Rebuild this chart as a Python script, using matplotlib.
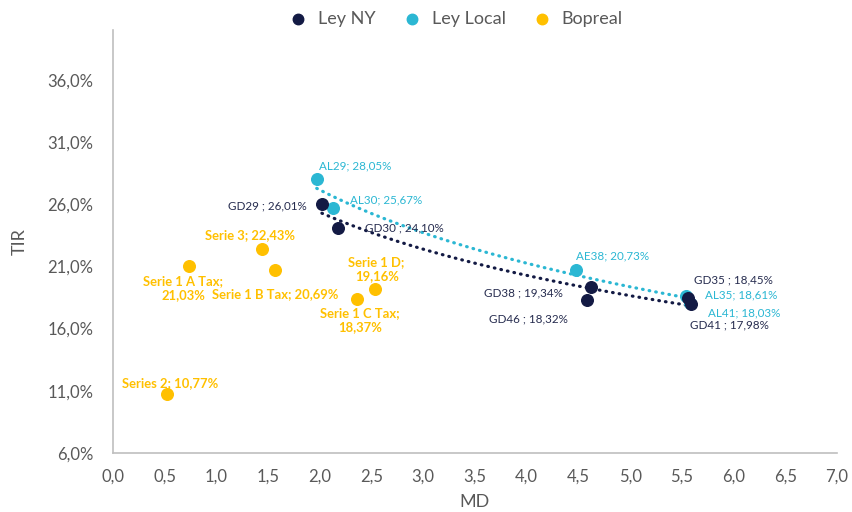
import numpy as np
import matplotlib
matplotlib.use("Agg")
import matplotlib.pyplot as plt
from matplotlib.ticker import FuncFormatter

plt.rcParams['font.family'] = ['Lato', 'DejaVu Sans']

# Ley NY
ny_names = ['GD29', 'GD30', 'GD38', 'GD46', 'GD35', 'GD41']
ny_md = [2.02, 2.18, 4.62, 4.58, 5.56, 5.59]
ny_tir = [26.01, 24.10, 19.34, 18.32, 18.45, 17.98]

# Ley Local
loc_names = ['AL29', 'AL30', 'AE38', 'AL35', 'AL41']
loc_md = [1.97, 2.13, 4.48, 5.54, 5.58]
loc_tir = [28.05, 25.67, 20.73, 18.61, 18.03]

# Bopreal
bop_names = ['Serie 1 A Tax', 'Serie 3', 'Serie 1 B Tax', 'Serie 1 D', 'Serie 1 C Tax', 'Series 2']
bop_md = [0.735, 1.44, 1.57, 2.53, 2.36, 0.52]
bop_tir = [21.03, 22.43, 20.69, 19.16, 18.37, 10.77]

navy = '#131a44'
cyan = '#2bb7d3'
gold = '#ffc000'
navy_txt = '#262c4f'
grey = '#595959'

fig = plt.figure(figsize=(8.52, 5.12), dpi=100)
ax = fig.add_axes([0.1326, 0.1152, 0.8498, 0.8262])


def fmt(v):
    return f'{v:.2f}'.replace('.', ',') + '%'


def trend(x, y, color):
    # logarithmic trendline like Excel
    x = np.array(x)
    a, b = np.polyfit(np.log(x), np.array(y), 1)
    xs = np.linspace(x.min(), x.max(), 200)
    ax.plot(xs, a * np.log(xs) + b, linestyle=(0, (0.2, 1.9)), dash_capstyle='round',
            color=color, lw=2.3, zorder=2)


trend(ny_md, ny_tir, navy)
trend(loc_md, loc_tir, cyan)

ax.scatter(ny_md, ny_tir, s=70, color=navy, zorder=4, label='Ley NY')
ax.scatter(loc_md, loc_tir, s=70, color=cyan, zorder=3, label='Ley Local')
ax.scatter(bop_md, bop_tir, s=70, color=gold, zorder=3, label='Bopreal')

# label offsets in pixels (dx, dy, ha)
ny_off = [(-15, -2, 'right'), (27, 0, 'left'), (-67, -6, 'center'),
          (-58, -19, 'center'), (6, 18, 'left'), (-1, -21, 'left')]
loc_off = [(2, 13, 'left'), (17, 8, 'left'), (36, 14, 'center'),
           (19, 1, 'left'), (18, -10, 'left')]
bop_off = [(-6, -22, 'center'), (-12, 14, 'center'), (0, -24, 'center'),
           (2, 20, 'center'), (3, -21, 'center'), (3, 11, 'center')]
bop_two_lines = [True, False, False, True, True, False]

for n, x, y, (dx, dy, ha) in zip(ny_names, ny_md, ny_tir, ny_off):
    ax.annotate(f'{n} ; {fmt(y)}', (x, y), xytext=(dx, dy), textcoords='offset pixels',
                ha=ha, va='center', fontsize=8.4, color=navy_txt)
for n, x, y, (dx, dy, ha) in zip(loc_names, loc_md, loc_tir, loc_off):
    ax.annotate(f'{n}; {fmt(y)}', (x, y), xytext=(dx, dy), textcoords='offset pixels',
                ha=ha, va='center', fontsize=8.4, color=cyan)
for n, x, y, (dx, dy, ha), two in zip(bop_names, bop_md, bop_tir, bop_off, bop_two_lines):
    sep = ';\n' if two else '; '
    ax.annotate(f'{n}{sep}{fmt(y)}', (x, y), xytext=(dx, dy), textcoords='offset pixels',
                ha=ha, va='center', ma='center', fontsize=9.4, color=gold,
                fontweight='bold', linespacing=1.2)

ax.set_xlim(0, 7)
ax.set_ylim(6, 40)
ax.set_xticks(np.arange(0, 7.01, 0.5))
ax.set_yticks(np.arange(6, 37, 5))
ax.xaxis.set_major_formatter(FuncFormatter(lambda v, p: f'{v:.1f}'.replace('.', ',')))
ax.yaxis.set_major_formatter(FuncFormatter(lambda v, p: f'{v:.1f}'.replace('.', ',') + '%'))
ax.tick_params(length=0, labelsize=12, colors=grey)
ax.tick_params(axis='x', pad=11)
ax.tick_params(axis='y', pad=14)
for s in ['top', 'right']:
    ax.spines[s].set_visible(False)
for s in ['left', 'bottom']:
    ax.spines[s].set_color('#bfbfbf')
    ax.spines[s].set_linewidth(1.2)

ax.set_xlabel('MD', fontsize=13, color=grey, labelpad=7)
ax.set_ylabel('TIR', fontsize=13, color=grey, labelpad=14)

fig.legend(loc='upper center', bbox_to_anchor=(0.53, 1.01), ncol=3, frameon=False,
           fontsize=13, labelcolor=grey, handletextpad=0.1, columnspacing=1.0,
           markerscale=0.9)

fig.savefig('out.png', dpi=100)
